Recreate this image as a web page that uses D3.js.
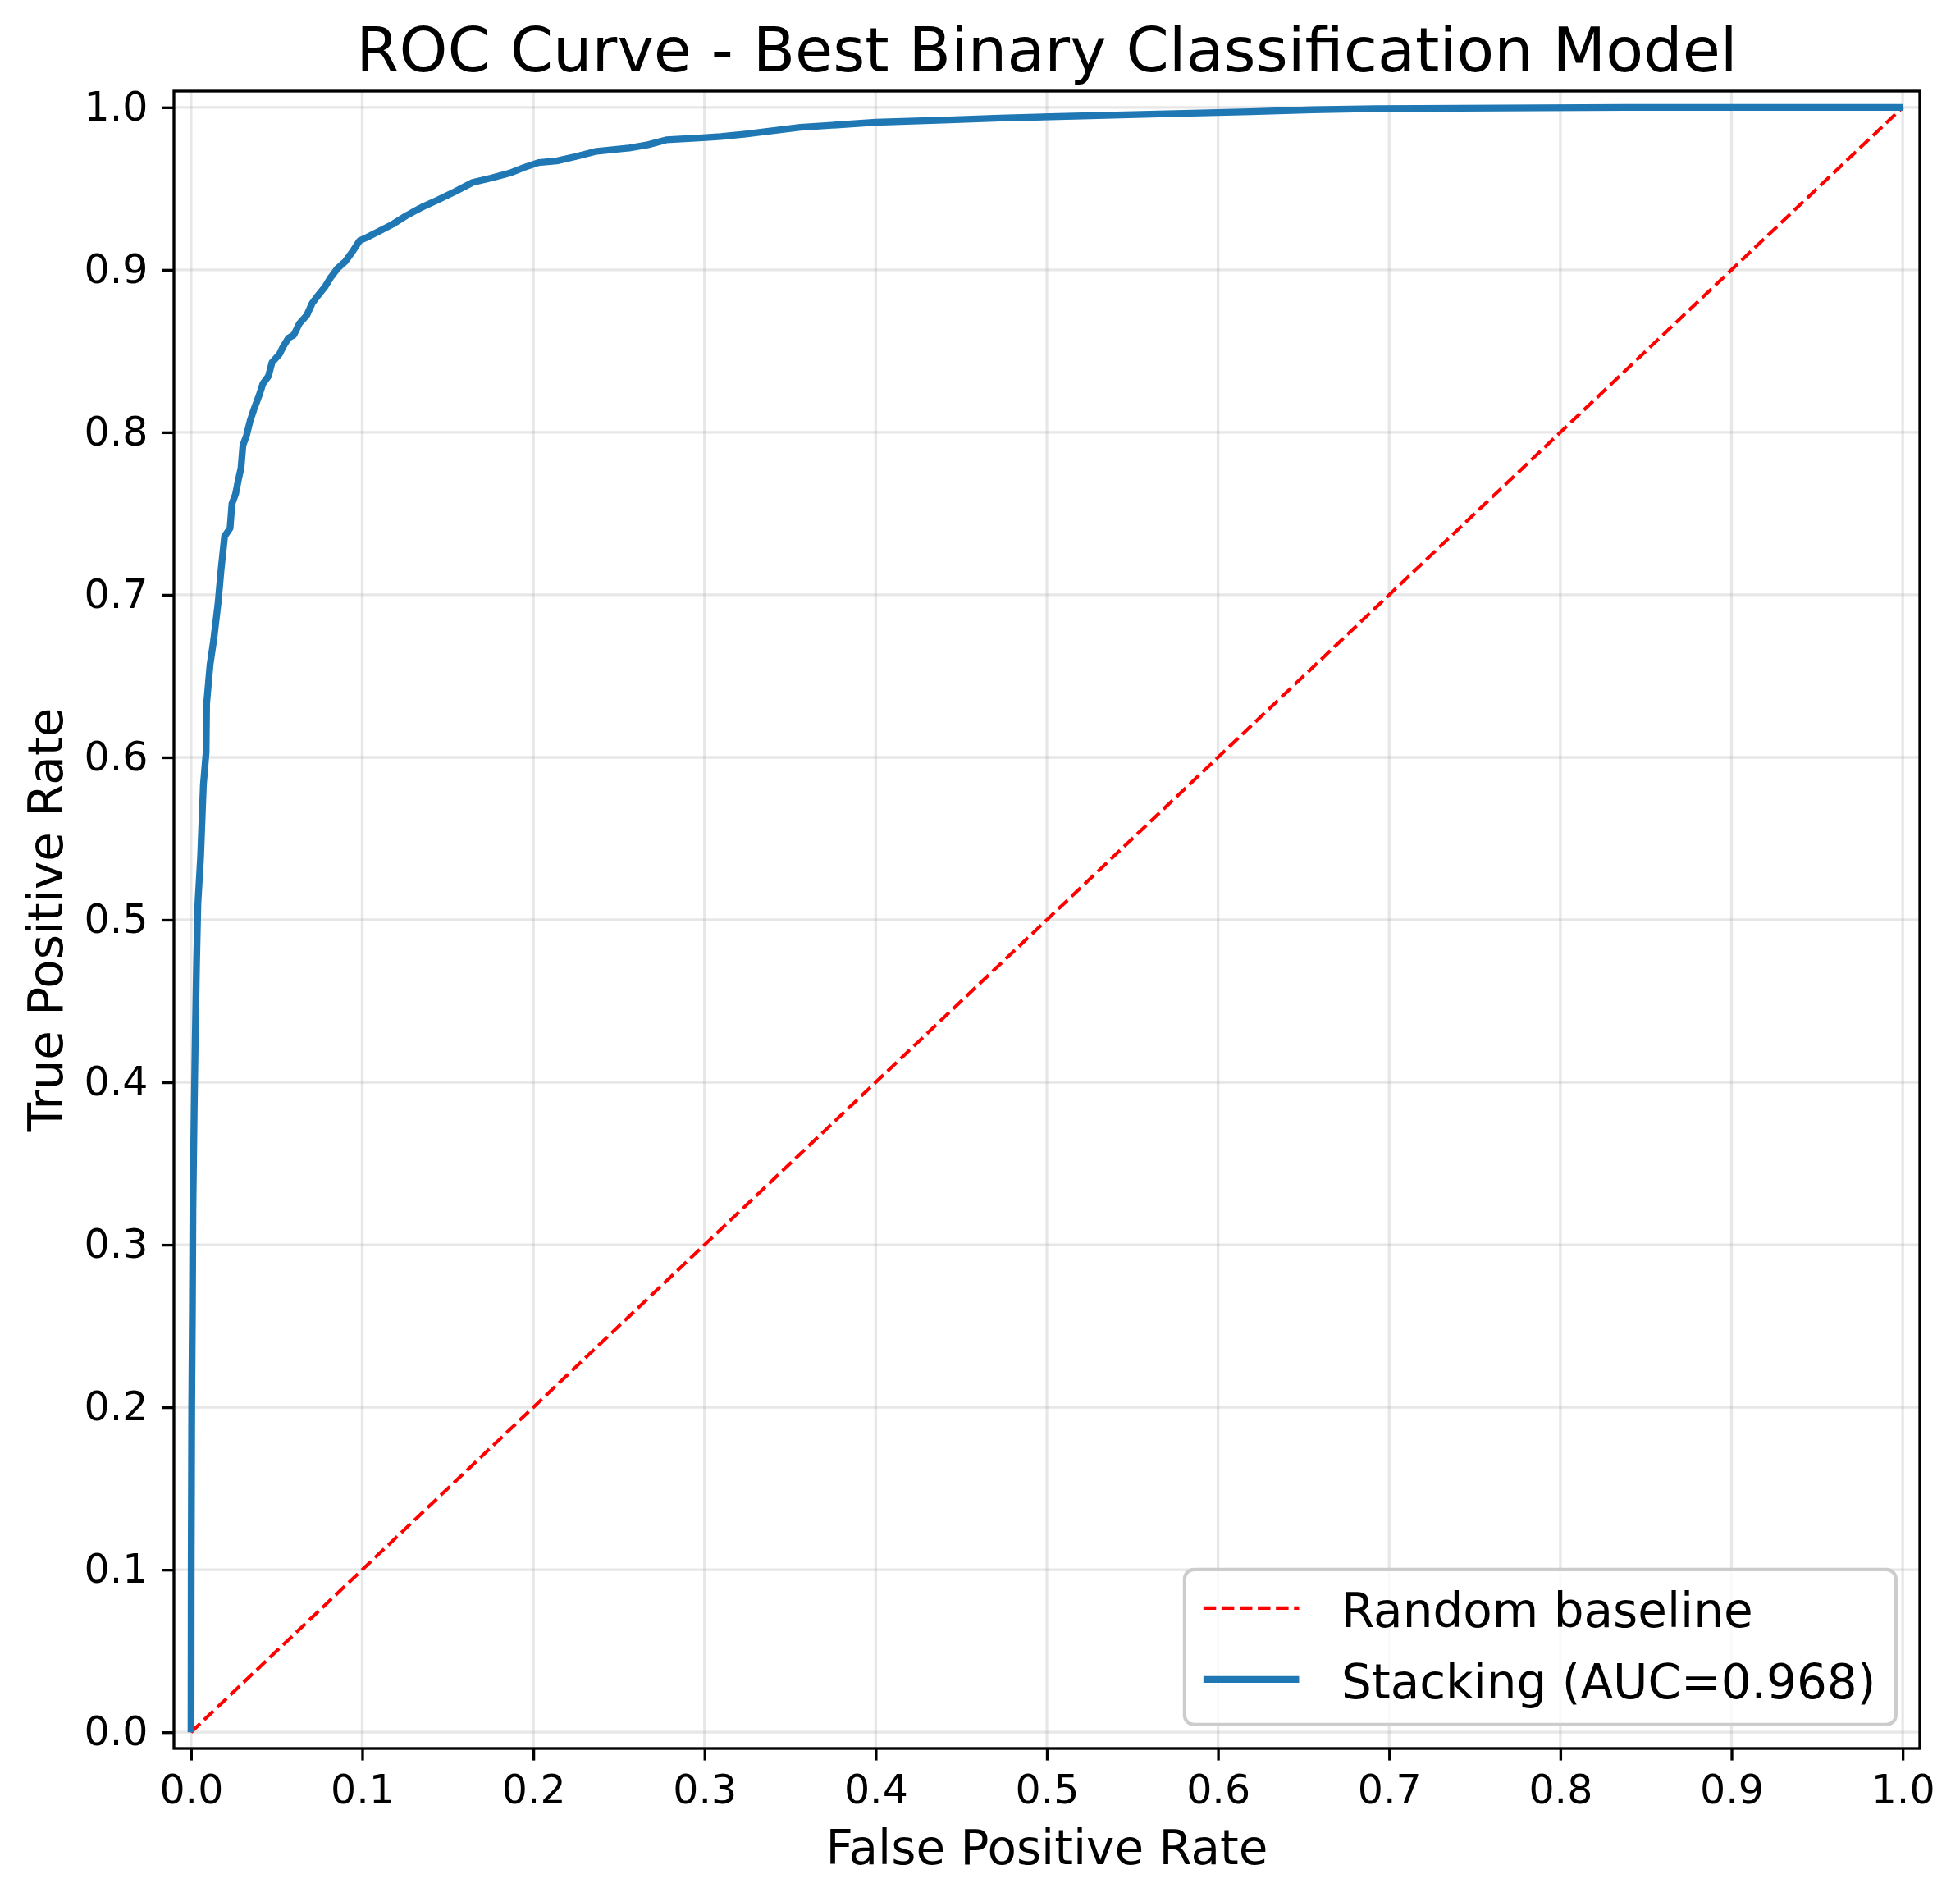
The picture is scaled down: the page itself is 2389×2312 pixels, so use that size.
<!DOCTYPE html>
<html>
<head>
<meta charset="utf-8">
<script src="https://cdn.jsdelivr.net/npm/d3@7"></script>
<style>
  body { margin: 0; background: #fff; }
  svg text { font-family: "DejaVu Sans", sans-serif; fill: #000; }
</style>
</head>
<body>
<script>
// ROC curve (false positive rate / true positive rate)
const fpr = [
  0, 0.0001, 0.0004, 0.0008, 0.0011, 0.0018, 0.0024, 0.0032, 0.004, 0.0056,
  0.0072, 0.0088, 0.0091, 0.0111, 0.0132, 0.0158, 0.0175, 0.0196, 0.0228, 0.0239,
  0.026, 0.0277, 0.0292, 0.0303, 0.0324, 0.0345, 0.0367, 0.0399, 0.042, 0.0452,
  0.0473, 0.0516, 0.0537, 0.0569, 0.0601, 0.0633, 0.0676, 0.0708, 0.074, 0.0783,
  0.0814, 0.0857, 0.09, 0.0942, 0.0985, 0.1028, 0.1092, 0.1177, 0.1262, 0.1348,
  0.1433, 0.154, 0.1646, 0.1753, 0.186, 0.1945, 0.203, 0.2136, 0.2243, 0.237,
  0.256, 0.267, 0.2776, 0.299, 0.3096, 0.324, 0.356, 0.4, 0.443, 0.4726,
  0.516, 0.575, 0.619, 0.655, 0.692, 0.765, 0.838, 1.0
];
const tpr = [
  0, 0.1, 0.2, 0.26, 0.322, 0.38, 0.423, 0.4725, 0.51, 0.539,
  0.583, 0.603, 0.633, 0.657, 0.672, 0.695, 0.715, 0.736, 0.741, 0.756,
  0.762, 0.771, 0.778, 0.792, 0.798, 0.807, 0.814, 0.823, 0.83, 0.8345,
  0.843, 0.848, 0.8525, 0.858, 0.86, 0.867, 0.872, 0.8795, 0.884, 0.8896,
  0.895, 0.901, 0.905, 0.911, 0.918, 0.92, 0.9234, 0.928, 0.9336, 0.9385,
  0.9426, 0.948, 0.9538, 0.9565, 0.9595, 0.963, 0.966, 0.967, 0.9696, 0.973,
  0.975, 0.977, 0.98, 0.9813, 0.982, 0.9836, 0.9877, 0.9908, 0.9923, 0.9934,
  0.9946, 0.9962, 0.9973, 0.9985, 0.9992, 0.9996, 1.0, 1.0
];
const baselineX = [0, 1];
const baselineY = [0, 1];

const xTicks = [0, 0.1, 0.2, 0.3, 0.4, 0.5, 0.6, 0.7, 0.8, 0.9, 1.0];
const yTicks = [0, 0.1, 0.2, 0.3, 0.4, 0.5, 0.6, 0.7, 0.8, 0.9, 1.0];

const legendLabels = ["Random baseline", "Stacking (AUC=0.968)"];
const titleText = "ROC Curve - Best Binary Classification Model";

const width = 2389,
  height = 2312;
const margin = { left: 212, right: 49, top: 111, bottom: 181 };
const innerW = width - margin.left - margin.right,
  innerH = height - margin.top - margin.bottom;

const lw = 300 / 72; // one point in pixels at 300 dpi

const svg = d3
  .select("body")
  .append("svg")
  .attr("width", width)
  .attr("height", height);

const x = d3.scaleLinear().domain([-0.01, 1.01]).range([0, innerW]);
const y = d3.scaleLinear().domain([-0.01, 1.01]).range([innerH, 0]);

const g = svg
  .append("g")
  .attr("transform", `translate(${margin.left},${margin.top})`);

// grid
g.append("g")
  .selectAll("line")
  .data(xTicks)
  .join("line")
  .attr("x1", d => x(d))
  .attr("x2", d => x(d))
  .attr("y1", 0)
  .attr("y2", innerH)
  .style("stroke", "#b0b0b0")
  .style("stroke-opacity", 0.3)
  .style("stroke-width", 0.8 * lw);

g.append("g")
  .selectAll("line")
  .data(yTicks)
  .join("line")
  .attr("x1", 0)
  .attr("x2", innerW)
  .attr("y1", d => y(d))
  .attr("y2", d => y(d))
  .style("stroke", "#b0b0b0")
  .style("stroke-opacity", 0.3)
  .style("stroke-width", 0.8 * lw);

const line = d3
  .line()
  .x(d => x(d[0]))
  .y(d => y(d[1]));

const baseline = baselineX.map((v, i) => [v, baselineY[i]]);
const roc = fpr.map((v, i) => [v, tpr[i]]);

g.append("path")
  .datum(baseline)
  .attr("d", line)
  .style("fill", "none")
  .style("stroke", "#ff0000")
  .style("stroke-width", lw)
  .style("stroke-dasharray", `${3.7 * lw},${1.6 * lw}`);

g.append("path")
  .datum(roc)
  .attr("d", line)
  .style("fill", "none")
  .style("stroke", "#1f77b4")
  .style("stroke-width", 2 * lw)
  .style("stroke-linejoin", "round");

// axes
const xAxis = d3
  .axisBottom(x)
  .tickValues(xTicks)
  .tickFormat(d3.format(".1f"))
  .tickSize(3.5 * lw)
  .tickPadding(18);

const yAxis = d3
  .axisLeft(y)
  .tickValues(yTicks)
  .tickFormat(d3.format(".1f"))
  .tickSize(3.5 * lw)
  .tickPadding(17);

const gx = g
  .append("g")
  .attr("transform", `translate(0,${innerH})`)
  .call(xAxis);
const gy = g.append("g").call(yAxis);

[gx, gy].forEach(a => {
  a.select(".domain").remove();
  a.selectAll(".tick line")
    .style("stroke", "#000")
    .style("stroke-width", 0.8 * lw);
  a.selectAll(".tick text")
    .style("font-size", "49px")
    .style("font-family", "DejaVu Sans");
});

g.append("rect")
  .attr("x", 0)
  .attr("y", 0)
  .attr("width", innerW)
  .attr("height", innerH)
  .style("fill", "none")
  .style("stroke", "#000")
  .style("stroke-width", 0.8 * lw);

// labels
svg
  .append("text")
  .attr("x", margin.left + innerW / 2)
  .attr("y", 87)
  .attr("text-anchor", "middle")
  .style("font-size", "75px")
  .text(titleText);

svg
  .append("text")
  .attr("x", margin.left + innerW / 2)
  .attr("y", 2272)
  .attr("text-anchor", "middle")
  .style("font-size", "58px")
  .text("False Positive Rate");

svg
  .append("text")
  .attr("transform", `translate(76,${margin.top + innerH / 2}) rotate(-90)`)
  .attr("text-anchor", "middle")
  .style("font-size", "58px")
  .text("True Positive Rate");

// legend, lower right
const fs = 58.3;
const legW = 867,
  legH = 189;
const legX = innerW - 0.5 * fs - legW,
  legY = innerH - 0.5 * fs - legH;

const leg = g
  .append("g")
  .attr("transform", `translate(${legX},${legY})`);

leg
  .append("rect")
  .attr("width", legW)
  .attr("height", legH)
  .attr("rx", 0.2 * fs)
  .style("fill", "#fff")
  .style("fill-opacity", 0.8)
  .style("stroke", "#cccccc")
  .style("stroke-width", lw);

const legStyles = [
  { color: "#ff0000", width: lw, dash: `${3.7 * lw},${1.6 * lw}` },
  { color: "#1f77b4", width: 2 * lw, dash: null }
];

const rows = leg
  .selectAll(".row")
  .data(legendLabels)
  .join("g")
  .attr("class", "row")
  .attr("transform", (d, i) => `translate(0,${47 + i * 87})`);

rows
  .append("line")
  .attr("x1", 23)
  .attr("x2", 23 + 2 * fs)
  .style("stroke", (d, i) => legStyles[i].color)
  .style("stroke-width", (d, i) => legStyles[i].width)
  .style("stroke-dasharray", (d, i) => legStyles[i].dash);

rows
  .append("text")
  .attr("x", 28 + 2.8 * fs)
  .attr("y", 23)
  .style("font-size", "58px")
  .text(d => d);
</script>
</body>
</html>
